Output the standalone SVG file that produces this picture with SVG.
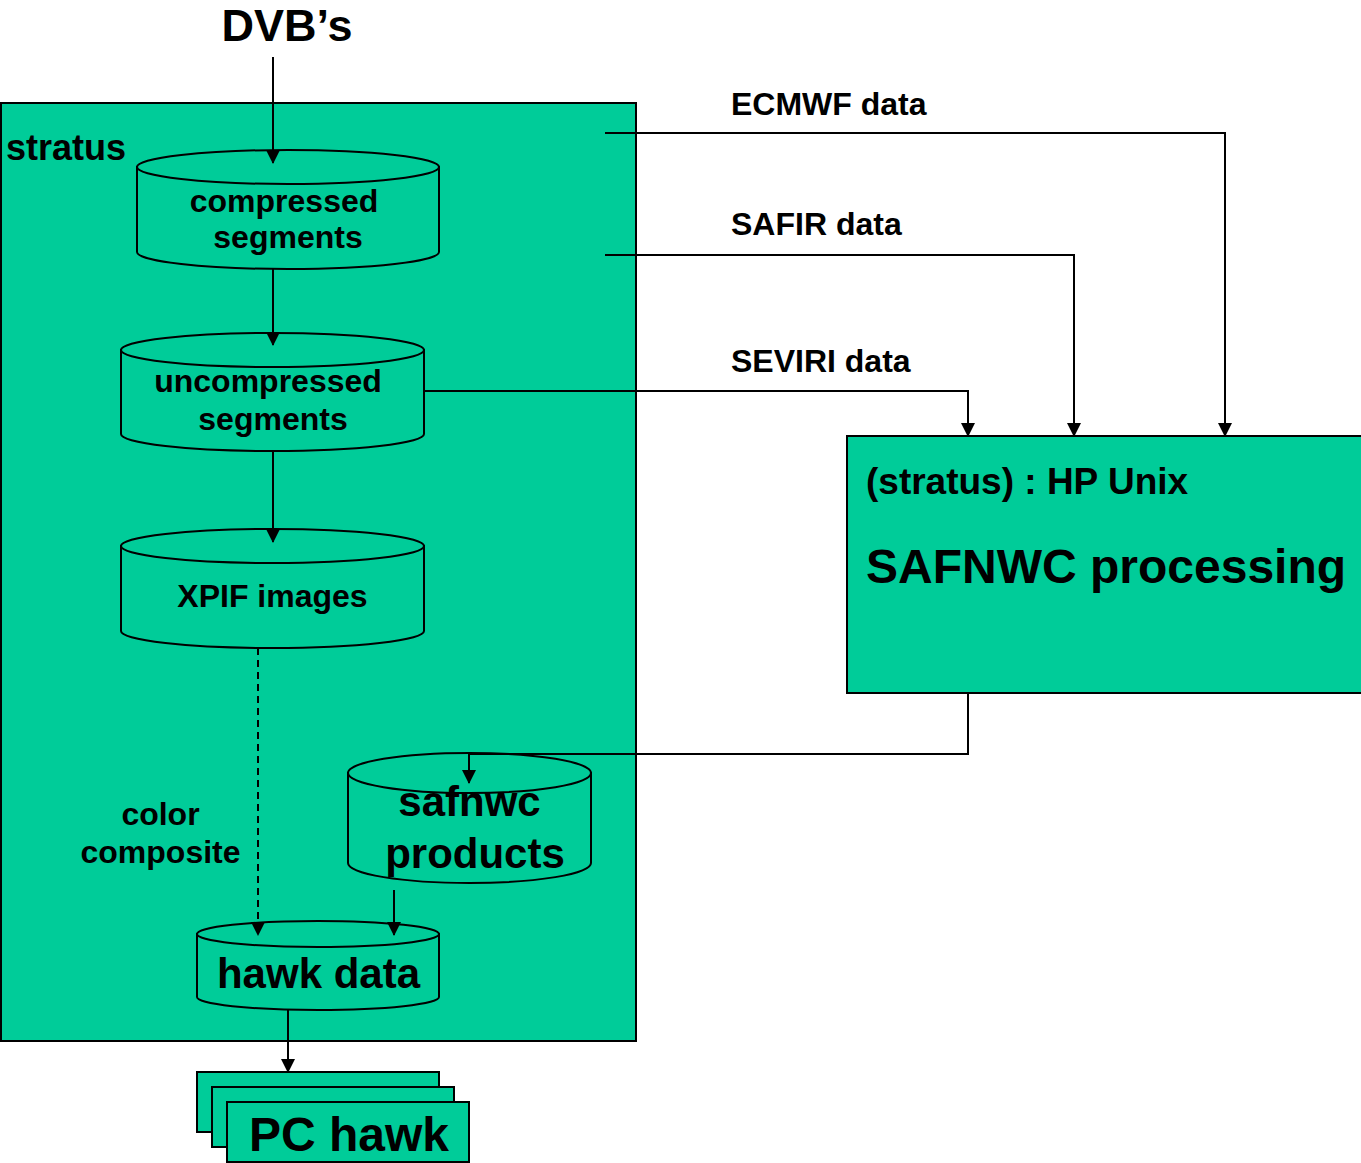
<svg xmlns="http://www.w3.org/2000/svg" width="1361" height="1163" viewBox="0 0 1361 1163">
  <defs>
    <style>
      .box { fill: #00cc99; stroke: #000; stroke-width: 2; }
      .cyl { fill: #00cc99; stroke: #000; stroke-width: 2; }
      .wire { fill: none; stroke: #000; stroke-width: 2; }
      .dash { stroke-dasharray: 7 5; }
      text { font-family: "Liberation Sans", Arial, sans-serif; font-weight: bold; fill: #000; }
      .t32 { font-size: 32px; }
      .t36 { font-size: 36px; }
      .t37 { font-size: 37px; }
      .t42 { font-size: 42px; }
      .t45 { font-size: 45px; }
      .t48 { font-size: 48px; }
      .mid { text-anchor: middle; }
    </style>
    <marker id="arrow" markerUnits="userSpaceOnUse" markerWidth="14" markerHeight="16" refX="13" refY="7" orient="auto">
      <path d="M0,0 L14,7 L0,14 Z" fill="#000"/>
    </marker>
  </defs>

  <rect width="1361" height="1163" fill="#fff"/>

  <!-- stratus host -->
  <g id="stratus">
    <rect class="box" x="1" y="103" width="635" height="938"/>
    <text class="t36" x="6" y="160">stratus</text>
  </g>

  <!-- SAFNWC processing host -->
  <g id="safnwc-processing">
    <rect class="box" x="847" y="436" width="516" height="257"/>
    <text class="t37" x="866" y="494">(stratus) : HP Unix</text>
    <text class="t48" x="866" y="583">SAFNWC processing</text>
  </g>

  <text id="dvbs" class="t45 mid" x="287" y="41">DVB’s</text>

  <g id="compressed-segments">
    <path class="cyl" d="M137,167 L137,252 A151,17 0 0 0 439,252 L439,167 Z"/>
    <ellipse class="cyl" cx="288" cy="167" rx="151" ry="17"/>
    <text class="t32 mid" x="284" y="212">compressed</text>
    <text class="t32 mid" x="288" y="248">segments</text>
  </g>

  <g id="uncompressed-segments">
    <path class="cyl" d="M121,350 L121,434 A151.5,17 0 0 0 424,434 L424,350 Z"/>
    <ellipse class="cyl" cx="272.5" cy="350" rx="151.5" ry="17"/>
    <text class="t32 mid" x="268" y="392">uncompressed</text>
    <text class="t32 mid" x="273" y="430">segments</text>
  </g>

  <g id="xpif-images">
    <path class="cyl" d="M121,546 L121,631 A151.5,17 0 0 0 424,631 L424,546 Z"/>
    <ellipse class="cyl" cx="272.5" cy="546" rx="151.5" ry="17"/>
    <text class="t32 mid" x="272.5" y="607">XPIF images</text>
  </g>

  <g id="safnwc-products">
    <path class="cyl" d="M348,773 L348,863 A121.5,20 0 0 0 591,863 L591,773 Z"/>
    <ellipse class="cyl" cx="469.5" cy="773" rx="121.5" ry="20"/>
    <text class="t42 mid" x="469.5" y="816">safnwc</text>
    <text class="t42 mid" x="475" y="868">products</text>
  </g>

  <g id="hawk-data">
    <path class="cyl" d="M197,934 L197,997 A121,13 0 0 0 439,997 L439,934 Z"/>
    <ellipse class="cyl" cx="318" cy="934" rx="121" ry="13"/>
    <text class="t42 mid" x="318.5" y="988">hawk data</text>
  </g>

  <!-- stacked workstations -->
  <g id="pc-hawk">
    <rect class="box" x="197" y="1072" width="242" height="60"/>
    <rect class="box" x="212" y="1087" width="242" height="60"/>
    <rect class="box" x="227" y="1102" width="242" height="60"/>
    <text class="t48" x="249" y="1151">PC hawk</text>
  </g>

  <text class="t32 mid" x="160.5" y="825">color</text>
  <text class="t32 mid" x="160.5" y="863">composite</text>

  <text class="t32" x="731" y="115">ECMWF data</text>
  <text class="t32" x="731" y="235">SAFIR data</text>
  <text class="t32" x="731" y="372">SEVIRI data</text>

  <g id="connectors">
    <path class="wire" d="M273,57 L273,163" marker-end="url(#arrow)"/>
    <path class="wire" d="M273,269 L273,345" marker-end="url(#arrow)"/>
    <path class="wire" d="M273,451 L273,542" marker-end="url(#arrow)"/>
    <path class="wire dash" d="M258,648 L258,935" marker-end="url(#arrow)"/>
    <path class="wire" d="M394,890 L394,935" marker-end="url(#arrow)"/>
    <path class="wire" d="M288,1010 L288,1072" marker-end="url(#arrow)"/>
    <path class="wire" d="M605,133 L1225,133 L1225,436" marker-end="url(#arrow)"/>
    <path class="wire" d="M605,255 L1074,255 L1074,436" marker-end="url(#arrow)"/>
    <path class="wire" d="M424,391 L968,391 L968,436" marker-end="url(#arrow)"/>
    <path class="wire" d="M968,693 L968,754 L469,754 L469,783" marker-end="url(#arrow)"/>
  </g>
</svg>
